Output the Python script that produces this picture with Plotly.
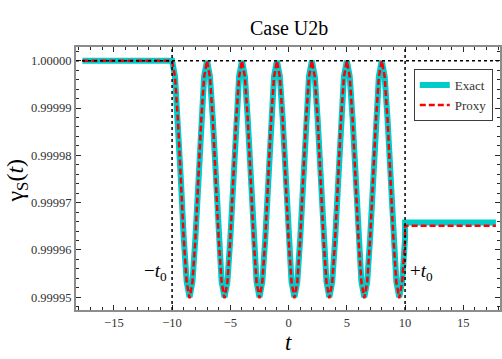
import plotly.graph_objects as go

# ---- data ----
t_pre = [-17.7, -15.0, -12.5, -11.0, -10.5, -10.25]
g_pre = [1.0, 1.0, 1.0, 1.0, 1.0, 1.0]

# oscillation region, t = -10 ... 10 in steps of 0.25
t_osc = [-10 + 0.25 * i for i in range(81)]
g_exact_osc = [
    1.0000000, 0.9999967, 0.9999875, 0.9999750, 0.9999625, 0.9999533,
    0.9999500, 0.9999533, 0.9999625, 0.9999750, 0.9999875, 0.9999967,
    1.0000000, 0.9999967, 0.9999875, 0.9999750, 0.9999625, 0.9999533,
    0.9999500, 0.9999533, 0.9999625, 0.9999750, 0.9999875, 0.9999967,
    1.0000000, 0.9999967, 0.9999875, 0.9999750, 0.9999625, 0.9999533,
    0.9999500, 0.9999533, 0.9999625, 0.9999750, 0.9999875, 0.9999967,
    1.0000000, 0.9999967, 0.9999875, 0.9999750, 0.9999625, 0.9999533,
    0.9999500, 0.9999533, 0.9999625, 0.9999750, 0.9999875, 0.9999967,
    1.0000000, 0.9999967, 0.9999875, 0.9999750, 0.9999625, 0.9999533,
    0.9999500, 0.9999533, 0.9999625, 0.9999750, 0.9999875, 0.9999967,
    1.0000000, 0.9999967, 0.9999875, 0.9999750, 0.9999625, 0.9999533,
    0.9999500, 0.9999533, 0.9999625, 0.9999750, 0.9999875, 0.9999967,
    1.0000000, 0.9999967, 0.9999875, 0.9999750, 0.9999625, 0.9999533,
    0.9999500, 0.9999533, 0.9999625,
]
g_proxy_osc = [
    1.0000000, 0.9999966, 0.9999874, 0.9999749, 0.9999624, 0.9999532,
    0.9999498, 0.9999532, 0.9999624, 0.9999749, 0.9999874, 0.9999966,
    1.0000000, 0.9999966, 0.9999874, 0.9999749, 0.9999624, 0.9999532,
    0.9999498, 0.9999532, 0.9999624, 0.9999749, 0.9999874, 0.9999966,
    1.0000000, 0.9999966, 0.9999874, 0.9999749, 0.9999624, 0.9999532,
    0.9999498, 0.9999532, 0.9999624, 0.9999749, 0.9999874, 0.9999966,
    1.0000000, 0.9999966, 0.9999874, 0.9999749, 0.9999624, 0.9999532,
    0.9999498, 0.9999532, 0.9999624, 0.9999749, 0.9999874, 0.9999966,
    1.0000000, 0.9999966, 0.9999874, 0.9999749, 0.9999624, 0.9999532,
    0.9999498, 0.9999532, 0.9999624, 0.9999749, 0.9999874, 0.9999966,
    1.0000000, 0.9999966, 0.9999874, 0.9999749, 0.9999624, 0.9999532,
    0.9999498, 0.9999532, 0.9999624, 0.9999749, 0.9999874, 0.9999966,
    1.0000000, 0.9999966, 0.9999874, 0.9999749, 0.9999624, 0.9999532,
    0.9999498, 0.9999532, 0.9999622,
]
t_post = [10.0, 12.5, 15.0, 17.8]
g_exact_post = [0.9999658, 0.9999658, 0.9999658, 0.9999658]
g_proxy_post = [0.9999651, 0.9999651, 0.9999651, 0.9999651]

t0 = 10.0
x_ticks = [-15, -10, -5, 0, 5, 10, 15]
y_ticks = [0.99995, 0.99996, 0.99997, 0.99998, 0.99999, 1.00000]
y_tick_text = ["0.99995", "0.99996", "0.99997", "0.99998", "0.99999", "1.00000"]

t_all = t_pre + t_osc + t_post
g_exact = g_pre + g_exact_osc + g_exact_post
g_proxy = g_pre + g_proxy_osc + g_proxy_post

SERIF = "Liberation Serif"

fig = go.Figure()
fig.add_trace(go.Scatter(
    x=t_all, y=g_exact, mode="lines", name="Exact",
    line=dict(color="rgb(0,204,204)", width=6),
))
fig.add_trace(go.Scatter(
    x=t_all, y=g_proxy, mode="lines", name="Proxy",
    line=dict(color="rgb(255,0,0)", width=2.5, dash="6px,3px"),
))

# dotted guide lines
for xv in (-t0, t0):
    fig.add_shape(type="line", xref="x", yref="paper", x0=xv, x1=xv, y0=0, y1=1,
                  line=dict(color="black", width=1.5, dash="dot"), layer="above")
fig.add_shape(type="line", xref="paper", yref="y", x0=0, x1=1, y0=1.0, y1=1.0,
              line=dict(color="black", width=1.5, dash="dot"), layer="above")

fig.add_annotation(x=-t0, y=0.9999553, xref="x", yref="y", text="−<i>t</i><sub>0</sub>",
                   showarrow=False, xanchor="right", xshift=-3,
                   font=dict(family=SERIF, size=19, color="black"))
fig.add_annotation(x=t0, y=0.9999553, xref="x", yref="y", text="+<i>t</i><sub>0</sub>",
                   showarrow=False, xanchor="left", xshift=3,
                   font=dict(family=SERIF, size=19, color="black"))

# axis titles as annotations for exact placement
fig.add_annotation(x=-0.138, y=0.494, xref="paper", yref="paper",
                   text="γ<sub>S</sub>(<i>t</i>)", textangle=-90, showarrow=False,
                   xanchor="center", yanchor="middle",
                   font=dict(family=SERIF, size=24, color="black"))
fig.add_annotation(x=0.5, y=-0.124, xref="paper", yref="paper",
                   text="<i>t</i>", showarrow=False,
                   xanchor="center", yanchor="middle",
                   font=dict(family=SERIF, size=23, color="black"))

axis_common = dict(
    showline=True, mirror="allticks", linecolor="rgb(140,140,140)", linewidth=2,
    ticks="inside", ticklen=5, tickwidth=1, tickcolor="rgb(40,40,40)",
    showgrid=False, zeroline=False, automargin=False,
    tickfont=dict(family=SERIF, size=12.5, color="rgb(50,50,50)"),
)

fig.update_xaxes(
    range=[-18.25, 18.15], tickvals=x_ticks,
    minor=dict(dtick=1, ticks="inside", ticklen=3, tickcolor="rgb(40,40,40)", showgrid=False),
    **axis_common,
)
fig.update_yaxes(
    range=[0.9999473, 1.0000029], tickvals=y_ticks, ticktext=y_tick_text,
    minor=dict(dtick=0.000002, tick0=1.0, ticks="inside", ticklen=3,
               tickcolor="rgb(40,40,40)", showgrid=False),
    **axis_common,
)

fig.update_layout(
    width=502, height=359,
    margin=dict(l=76, r=2, t=47, b=49),
    paper_bgcolor="white", plot_bgcolor="white",
    title=dict(text="Case U2b", x=0.576, xanchor="center", y=0.922, yanchor="middle",
               font=dict(family=SERIF, size=20, color="black")),
    legend=dict(x=0.983, y=0.916, xanchor="right", yanchor="top",
                bgcolor="white", bordercolor="rgb(60,60,60)", borderwidth=1,
                font=dict(family=SERIF, size=13, color="rgb(50,50,50)"),
                tracegroupgap=0),
    showlegend=True,
)

fig.write_html("out.html", config={"displayModeBar": False},
               post_script="document.body.style.margin='0';document.body.style.overflow='hidden';")
